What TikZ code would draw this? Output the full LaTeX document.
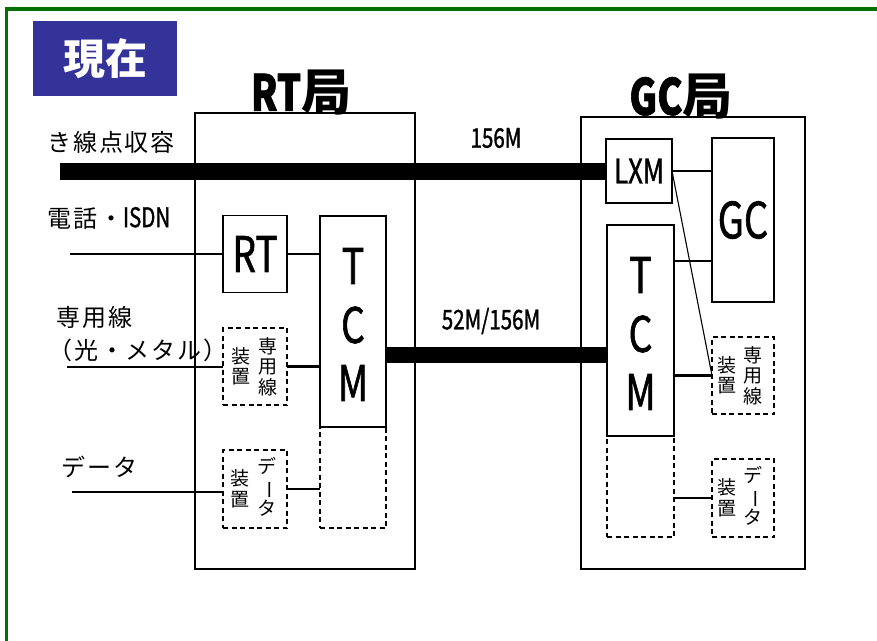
\documentclass[tikz,border=0pt]{standalone}
\usepackage{fontspec}
\setmainfont{Noto Sans CJK JP}
\newfontfamily\cnd[FakeStretch=0.76,FakeBold=1.2]{Noto Sans CJK JP}
\newfontfamily\lblfont[LetterSpace=8]{Noto Sans CJK JP}
\usetikzlibrary{positioning}
\definecolor{framegreen}{RGB}{0,112,0}
\definecolor{tagblue}{RGB}{51,51,153}
\tikzset{box/.style={draw,line width=1.3pt,inner sep=0pt,outer sep=0pt},
  dbox/.style={box,dashed,dash pattern=on 5pt off 3.5pt}}

\begin{document}
\begin{tikzpicture}[x=1pt,y=-1pt,line join=miter,
  bus/.style={line width=17pt},wire/.style={line width=2.3pt},fine/.style={line width=1.4pt},
  lbl/.style={anchor=west,inner sep=0pt,font=\lblfont\fontsize{24}{26}\selectfont},
  tate/.style={align=center,inner sep=0pt,font=\fontsize{19}{20.5}\selectfont},
  big/.style={inner sep=0pt,font=\cnd\fontsize{49}{49}\selectfont}]
\clip (0,0) rectangle (877,640);
\draw[framegreen,line width=3.5pt] (6.5,9) rectangle (900,700);
% --- title tag
\node[fill=tagblue,text=white,minimum width=144,minimum height=75,inner sep=0pt,font=\bfseries\fontsize{42}{42}\selectfont] (tag) at (105,58.5) {現在};
% --- stations
\node[box,line width=1.5pt,minimum width=220,minimum height=456] (rtst) at (305,341) {};
\node[box,line width=1.5pt,minimum width=224,minimum height=452] (gcst) at (693,343) {};
\node[inner sep=0pt,font=\bfseries\fontsize{50}{50}\selectfont] (rtname) at (301,93) {{\cnd RT}局};
\node[inner sep=0pt,font=\bfseries\fontsize{50}{50}\selectfont] (gcname) at (681,97) {{\cnd GC}局};
% --- RT side
\node[box,minimum width=64,minimum height=77] (rt) at (255,254) {\cnd\fontsize{49}{49}\selectfont RT};
\node[dbox,minimum width=66,minimum height=101] (tcmAx) at (353,477.5) {};
\node[box,minimum width=66,minimum height=211] (tcmA) at (353,321.5) {};
\node[dbox,minimum width=64,minimum height=77] (senA) at (255,366.5) {};
\node[dbox,minimum width=64,minimum height=78] (datA) at (255,489) {};
% --- GC side
\node[box,minimum width=66,minimum height=64] (lxm) at (639,171) {\cnd\fontsize{34}{34}\selectfont LXM};
\node[box,minimum width=62,minimum height=164] (gc) at (743,220) {\cnd\fontsize{50}{50}\selectfont GC};
\node[dbox,minimum width=67,minimum height=101] (tcmBx) at (640.5,486.5) {};
\node[box,minimum width=67,minimum height=211] (tcmB) at (640.5,330.5) {};
\node[dbox,minimum width=62,minimum height=77] (senB) at (743,375.5) {};
\node[dbox,minimum width=62,minimum height=78] (datB) at (743,498) {};
\foreach \s in {A,B} {
  \node[big] (tcm\s T) at ([yshift=-50]tcm\s.north) {T};
  \node[big] (tcm\s C) at ([yshift=-109]tcm\s.north) {C};
  \node[big] (tcm\s M) at ([yshift=-167]tcm\s.north) {M};}
% vertical texts
\node[tate] (senAr) at ([xshift=13]senA.center) {専\\用\\線};
\node[tate] (senAl) at ([xshift=-14]senA.center) {装\\置};
\node[tate] (datAr) at ([xshift=12,yshift=2]datA.center) {デ\\\rotatebox[origin=c]{-90}{ー}\\タ};
\node[tate] (datAl) at ([xshift=-15]datA.center) {装\\置};
\node[tate] (senBr) at ([xshift=10]senB.center) {専\\用\\線};
\node[tate] (senBl) at ([xshift=-16]senB.center) {装\\置};
\node[tate] (datBr) at ([xshift=10,yshift=2]datB.center) {デ\\\rotatebox[origin=c]{-90}{ー}\\タ};
\node[tate] (datBl) at ([xshift=-16]datB.center) {装\\置};
% --- labels
\node[lbl] (kisen) at (47,142) {き線点収容};
\node[lbl] (isdn) at (47,218) {電話・{\cnd\fontsize{27}{27}\selectfont ISDN}};
\node[lbl] (senyo) at (56,317) {専用線};
\node[lbl] (hikari) at (48,350) {（光・メタル）};
\node[lbl] (data) at (61,467) {データ};
\node[inner sep=0pt,font=\cnd\fontsize{27}{27}\selectfont] (bw1) at (496,138) {156M};
\node[inner sep=0pt,font=\cnd\fontsize{27}{27}\selectfont] (bw2) at (491,321) {52M/156M};
% --- lines
\coordinate (kin) at (60,171); \coordinate (tel) at (70,254);
\coordinate (sen) at (67,367); \coordinate (dat) at (72,492);
\coordinate (trk) at (0,355); \coordinate (gcin) at (0,261);
\draw[bus] (kin) -- (lxm.west);
\draw[bus,line width=16pt] (tcmA.east |- trk) -- (tcmB.west |- trk);
\draw[wire] (tel) -- (rt.west);
\draw[fine] (rt.east) -- (tcmA.west |- rt.east);
\draw[fine] (sen) -- (senA.west |- sen);
\draw[wire] (senA.east) -- (tcmA.west |- senA.east);
\draw[fine] (dat) -- (datA.west |- dat);
\draw[wire] (datA.east) -- (tcmAx.west |- datA.east);
\draw[fine] (lxm.east) -- (gc.west |- lxm.east);
\draw[wire] (tcmB.east |- gcin) -- (gc.west |- gcin);
\draw[line width=1.1pt] (lxm.east) -- (senB.west);
\draw[wire] (tcmB.east |- senB.west) -- (senB.west);
\draw[wire] (tcmBx.east |- datB.west) -- (datB.west);
\end{tikzpicture}
\end{document}
